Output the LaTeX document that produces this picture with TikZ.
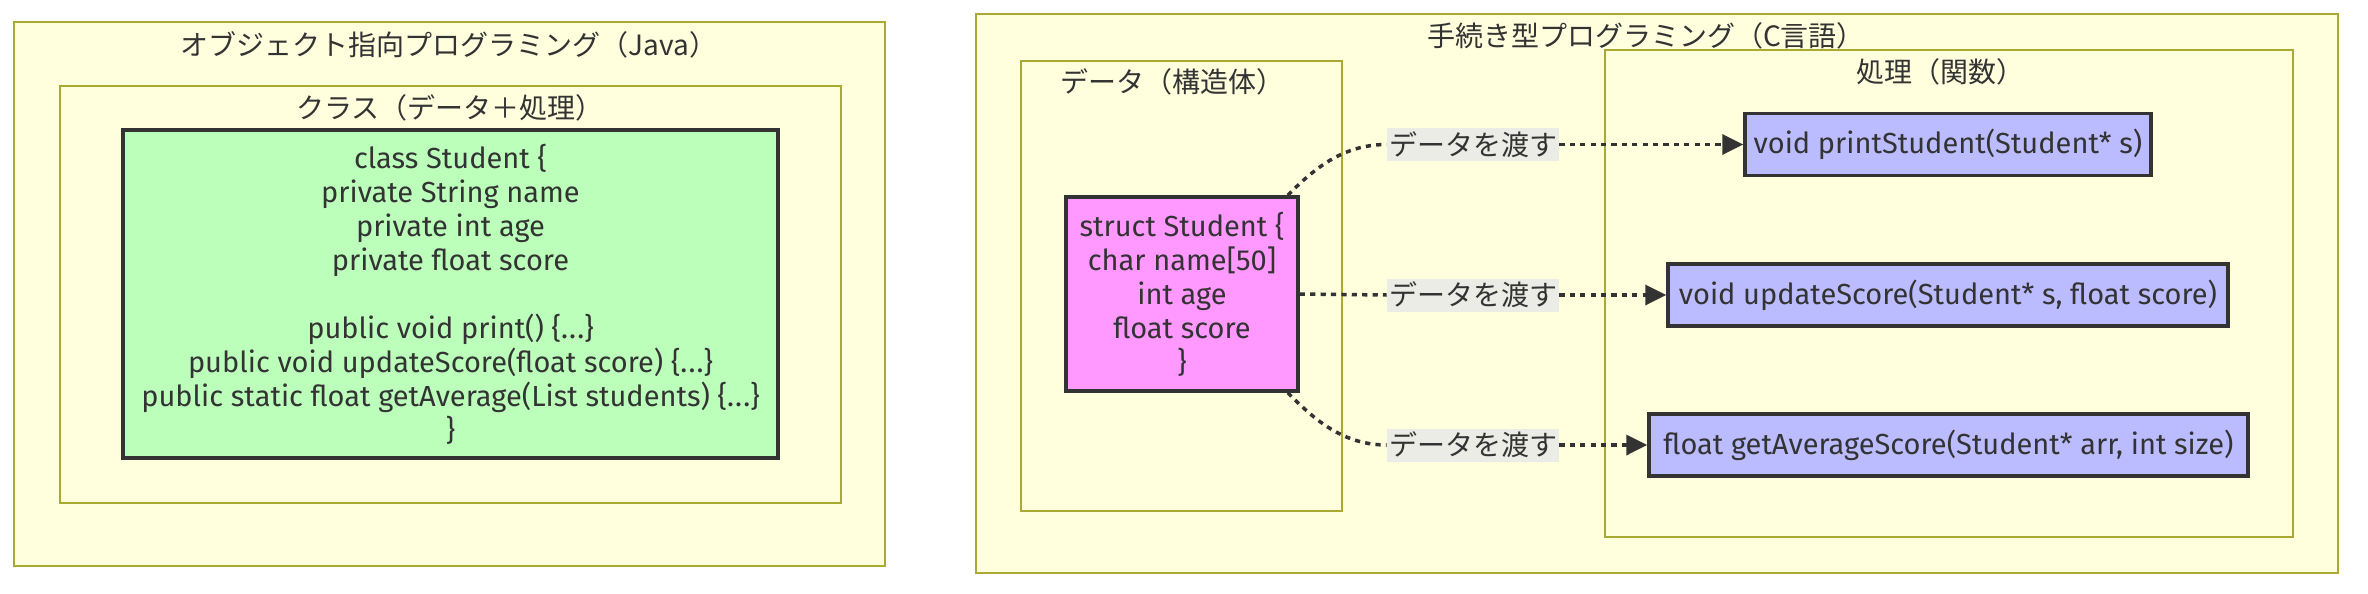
\documentclass[tikz,border=0pt]{standalone}
\usepackage{fontspec}
\setmainfont{Fira Sans}
\newfontfamily\jp{Noto Sans CJK JP}
\usetikzlibrary{arrows.meta}
\definecolor{clfill}{HTML}{FFFFDE}
\definecolor{clline}{HTML}{AAAA33}
\definecolor{ink}{HTML}{333333}
\definecolor{javagreen}{HTML}{BBFFBB}
\definecolor{structpink}{HTML}{FF99FF}
\definecolor{funcblue}{HTML}{BBBBFF}
\definecolor{lblgrey}{HTML}{E8E8E8}
\newcommand{\dotdotdot}{\{.\kern0.6pt.\kern0.6pt.\}}
\tikzset{
  cluster/.style={draw=clline, fill=clfill, line width=0.9pt},
  ctitle/.style={text=ink, font=\jp\fontsize{14}{17}\selectfont, inner sep=0pt},
  codebox/.style={draw=ink, line width=1.75pt, text=ink, align=center, inner sep=0pt,
    font=\fontsize{14.5}{17}\selectfont},
  passlbl/.style={fill=lblgrey, fill opacity=0.8, text opacity=1, text=ink, inner sep=0pt,
    minimum width=86pt, minimum height=16.5pt, font=\jp\fontsize{14}{17}\selectfont},
  flow/.style={draw=ink, line width=1.75pt, dash pattern=on 2.6pt off 2.6pt},
  passto/.style={flow, -{Triangle[length=10.5pt,width=10pt]}}
}

\begin{document}
\begin{tikzpicture}[x=0.5pt, y=-0.5pt]
	%%%%% START %%%%%
	\useasboundingbox (0, 0) rectangle (2368, 594);
	
	% Java
	\draw[cluster] (14, 22) rectangle (885, 566);
	\node[ctitle] (oopTitle) at (449, 45) {{\jp オブジェクト指向プログラミング（}Java{\jp ）}};
	\draw[cluster] (60, 86) rectangle (841, 503);
	\node[ctitle] (classTitle) at (450, 108) {クラス（データ＋処理）};
	
	\node[codebox, fill=javagreen, minimum width=327.5pt, minimum height=164pt] (javaClass) at (450.5, 294) {class Student \{\\
		private String name\\
		private int age\\
		private float score\\[17pt]
		public void print() \dotdotdot\\
		public void updateScore(float score) \dotdotdot\\
		public static float getAverage(List students) \dotdotdot\\
		\}};
	
	% C
	\draw[cluster] (976, 14) rectangle (2338, 573);
	\node[ctitle] (procTitle) at (1646, 36) {{\jp 手続き型プログラミング（}C{\jp 言語）}};
	\draw[cluster] (1021, 61) rectangle (1342, 511);
	\node[ctitle] (dataTitle) at (1172, 82) {データ（構造体）};
	\draw[cluster] (1605, 50) rectangle (2293, 537);
	\node[ctitle] (funcTitle) at (1940, 72) {処理（関数）};
	
	\node[codebox, fill=structpink, minimum width=116pt, minimum height=97pt] (cStruct) at (1182, 294) {struct Student \{\\
		char name[50]\\
		int age\\
		float score\\
		\}};
	
	\node[codebox, fill=funcblue, minimum width=203pt, minimum height=31pt] (fnPrint) at (1948, 144.5) {void printStudent(Student* s)};
	\node[codebox, fill=funcblue, minimum width=280pt, minimum height=31pt] (fnUpdate) at (1948, 295) {void updateScore(Student* s, float score)};
	\node[codebox, fill=funcblue, minimum width=299.5pt, minimum height=31pt] (fnAvg) at (1948.5, 445) {float getAverageScore(Student* arr, int size)};
	
	\node[passlbl] (passA) at (1473, 144.5) {データを渡す};
	\node[passlbl] (passB) at (1473, 295) {データを渡す};
	\node[passlbl] (passC) at (1473, 445) {データを渡す};
	
	\draw[flow] ([xshift=-6pt]cStruct.north east) .. controls ++(25, -25) and ++(-45, 0) .. (passA.west);
	\draw[passto] (passA.east) -- (fnPrint.west);
	\draw[flow] (cStruct.east) -- (passB.west);
	\draw[passto] (passB.east) -- (fnUpdate.west);
	\draw[flow] ([xshift=-6pt]cStruct.south east) .. controls ++(25, 25) and ++(-45, 0) .. (passC.west);
	\draw[passto] (passC.east) -- (fnAvg.west);
	%%%%% END %%%%%
\end{tikzpicture}
\end{document}
